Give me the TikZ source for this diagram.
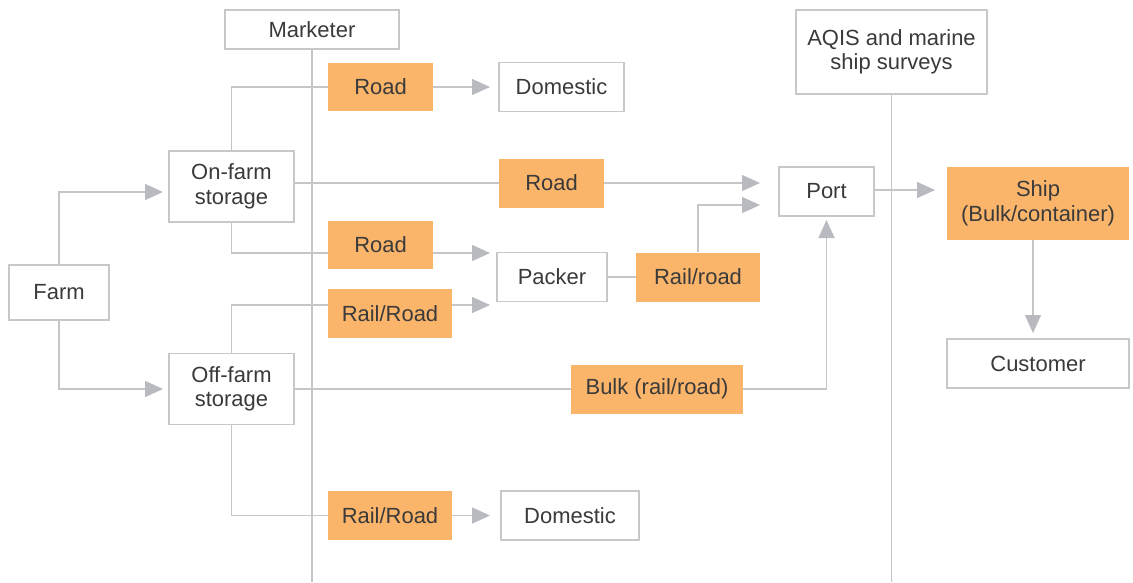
\documentclass[tikz,border=0pt]{standalone}
\usepackage{fontspec}
\setmainfont{Liberation Sans}
\usetikzlibrary{arrows.meta}
\definecolor{modeorange}{HTML}{FBB56B}
\definecolor{boxgray}{HTML}{C8C8C8}
\definecolor{linegray}{HTML}{C6C6C8}
\definecolor{tipgray}{HTML}{B8BAC0}
\definecolor{textgray}{HTML}{3A3A3A}
\begin{document}
\begin{tikzpicture}[x=0.02cm, y=-0.02cm,
  font=\fontsize{12.5}{14}\selectfont, text=textgray,
  box/.style={draw=boxgray, line width=0.8pt, fill=white, align=center, inner sep=0pt},
  mode/.style={fill=modeorange, align=center, inner sep=0pt},
  link/.style={draw=linegray, line width=0.8pt},
  flow/.style={link, -{Triangle[length=0.36cm, width=0.32cm, fill=tipgray, color=tipgray]}}]
  \useasboundingbox (0,0) rectangle (1133,582);
  % actors
  \node[box, minimum width=3.48cm, minimum height=0.78cm] (marketer) at (312,29.5) {Marketer};
  \node[box, minimum width=3.82cm, minimum height=1.68cm] (aqis) at (891.5,52) {AQIS and marine\\ship surveys};
  \coordinate (mkbot) at (312,582);
  \coordinate (aqbot) at (891.5,582);
  \draw[link] (marketer.south) -- (mkbot);
  \draw[link] (aqis.south) -- (aqbot);
  % sites
  \node[box, minimum width=2.0cm, minimum height=1.1cm] (farm) at (59,292.5) {Farm};
  \node[box, minimum width=2.5cm, minimum height=1.42cm] (onfarm) at (231.5,186.5) {On-farm\\storage};
  \node[box, minimum width=2.5cm, minimum height=1.42cm] (offfarm) at (231.5,389) {Off-farm\\storage};
  \node[box, minimum width=2.5cm, minimum height=0.98cm] (dom1) at (561.5,87) {Domestic};
  \node[box, minimum width=2.2cm, minimum height=0.98cm] (packer) at (552,277) {Packer};
  \node[box, minimum width=1.9cm, minimum height=0.98cm] (port) at (826.5,191.5) {Port};
  \node[box, minimum width=2.76cm, minimum height=0.98cm] (dom2) at (570,515.5) {Domestic};
  \node[box, minimum width=3.64cm, minimum height=0.98cm] (cust) at (1038,363.5) {Customer};
  % transport
  \node[mode, minimum width=2.1cm, minimum height=0.98cm] (road1) at (380.5,87) {Road};
  \node[mode, minimum width=2.1cm, minimum height=0.98cm] (road2) at (551.5,183) {Road};
  \node[mode, minimum width=2.1cm, minimum height=0.96cm] (road3) at (380.5,245) {Road};
  \node[mode, minimum width=2.48cm, minimum height=0.98cm] (rail1) at (390,313.5) {Rail/Road};
  \node[mode, minimum width=2.48cm, minimum height=0.98cm] (rail2) at (698,277) {Rail/road};
  \node[mode, minimum width=3.44cm, minimum height=0.98cm] (bulk) at (657,389) {Bulk (rail/road)};
  \node[mode, minimum width=2.48cm, minimum height=0.98cm] (rail3) at (390,515.5) {Rail/Road};
  \node[mode, minimum width=3.64cm, minimum height=1.46cm] (ship) at (1038,203.5) {Ship\\(Bulk/container)};
  % arrow tips
  \coordinate (onin) at (163,192);
  \coordinate (offin) at (163,389);
  \coordinate (domin) at (490,87);
  \coordinate (portin) at (760,183);
  \coordinate (portin2) at (760,205);
  \coordinate (packin) at (490,253);
  \coordinate (packin2) at (490,305);
  \coordinate (domin2) at (490,515.5);
  \coordinate (portbot) at (826.5,220);
  \coordinate (shipin) at (935,190);
  \coordinate (custin) at (1033,333);
  % flows
  \draw[flow] (farm.north) |- (onin);
  \draw[flow] (farm.south) |- (offin);
  \draw[link] (onfarm.north) |- (road1.west);
  \draw[flow] (road1.east) -- (domin);
  \draw[link] (onfarm.east |- road2) -- (road2.west);
  \draw[flow] (road2.east) -- (portin);
  \draw[link] (onfarm.south) |- (road3.west |- packin);
  \draw[flow] (road3.east |- packin) -- (packin);
  \draw[link] (offfarm.north) |- (rail1.west |- packin2);
  \draw[flow] (rail1.east |- packin2) -- (packin2);
  \draw[link] (packer.east) -- (rail2.west);
  \draw[flow] (rail2.north) |- (portin2);
  \draw[link] (offfarm.east) -- (bulk.west);
  \draw[flow] (bulk.east) -| (portbot);
  \draw[link] (offfarm.south) |- (rail3.west);
  \draw[flow] (rail3.east) -- (domin2);
  \draw[flow] (port.east |- shipin) -- (shipin);
  \draw[flow] (ship.south -| custin) -- (custin);
\end{tikzpicture}
\end{document}
